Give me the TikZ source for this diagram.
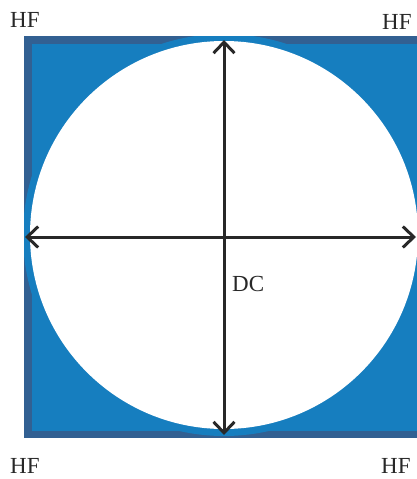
\documentclass[tikz,border=0pt]{standalone}
\usepackage{fontspec}
\setmainfont{Liberation Serif}
\usetikzlibrary{arrows.meta}
\definecolor{bordblue}{RGB}{50,96,146}
\definecolor{fillblue}{RGB}{22,126,191}
\definecolor{ink}{RGB}{40,40,40}
\begin{document}
\begin{tikzpicture}[x=1pt,y=-1pt,
  lbl/.style={font=\fontsize{23}{23}\selectfont, text=ink, inner sep=0pt},
  dimarrow/.style={draw=ink, line width=3pt, {Straight Barb[length=11pt,width=21pt]}-{Straight Barb[length=11pt,width=21pt]}}]
\useasboundingbox (0,0) rectangle (416,479);
% square
\fill[bordblue] (24,36) rectangle (426,438);
\fill[fillblue] (32,44) rectangle (418,431);
% circle with light ring over the border
\begin{scope}
  \clip (24,36) rectangle (426,438);
  \fill[fillblue] (224,235) circle[radius=201];
\end{scope}
\fill[white] (224,235) circle[radius=194];
% arrows
\coordinate (L) at (25,237);
\coordinate (R) at (416,237);
\coordinate (T) at (224,40);
\coordinate (B) at (224,435);
\draw[dimarrow] (L) -- (R);
\draw[dimarrow] (T) -- (B);
% labels
\node[lbl, anchor=south west] (hftl) at (10,28) {HF};
\node[lbl, anchor=south west] (hftr) at (382,30) {HF};
\node[lbl, anchor=south west] (hfbl) at (10,474) {HF};
\node[lbl, anchor=south west] (hfbr) at (381,474) {HF};
\node[lbl, anchor=south west] (dc) at (232,292) {DC};
\end{tikzpicture}
\end{document}
